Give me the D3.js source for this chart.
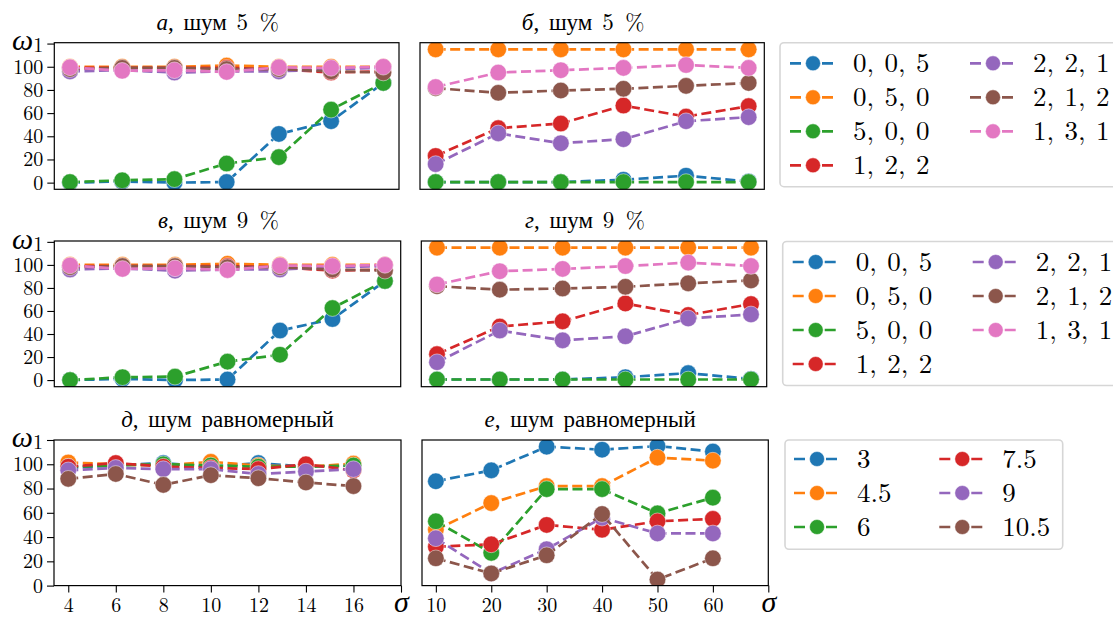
<!DOCTYPE html>
<html>
<head>
<meta charset="utf-8">
<title>omega1 vs sigma</title>
<script src="https://d3js.org/d3.v7.min.js"></script>
<style>
  body { margin: 0; background: #fff; }
  .frame { fill: none; stroke: #000; stroke-width: 1.2; }
  .tick line { stroke: #000; stroke-width: 1.1; }
</style>
</head>
<body>
<svg id="chart" width="1113" height="621"></svg>
<script>
// ---- data ----
var sigmaLeft = [4, 6, 8, 10, 12, 14, 16];
var sigmaRight = [10, 20, 30, 40, 50, 60];
var ratioNames = ["0, 0, 5", "0, 5, 0", "5, 0, 0", "1, 2, 2", "2, 2, 1", "2, 1, 2", "1, 3, 1"];
var uniformNames = ["3", "4.5", "6", "7.5", "9", "10.5"];
var yTicks = [0, 20, 40, 60, 80, 100, 120];

// а, шум 5 %  (one row per series, same order as ratioNames)
var panelA = [
  [0, 1, 0, 0.5, 42, 53, 86],
  [100, 100, 100, 101, 100, 100, 100],
  [0.5, 2, 3, 16.5, 22, 63, 86],
  [99, 99, 99, 99, 98, 95, 96],
  [96, 97, 95, 96, 96, 98, 99],
  [98, 99, 99, 98, 98, 96, 95],
  [99.5, 96.5, 97, 95.5, 99.5, 99, 100]
];
// б, шум 5 %
var panelB = [
  [0.5, 0.5, 0.5, 2.5, 6, 1],
  [115, 115, 115, 115, 115, 115],
  [0.5, 0.5, 0.5, 0.5, 0.5, 0.5],
  [23, 47, 51, 66.5, 57, 66],
  [16, 42.5, 34, 37.5, 53, 56.5],
  [81.5, 77.5, 79.5, 81, 83.5, 86],
  [82.5, 95, 97, 99, 101.5, 99]
];
// в, шум 9 %
var panelV = [
  [0, 1, 0, 0.5, 43, 53, 86],
  [100, 100, 100, 101, 100, 100, 100],
  [0, 2.5, 3, 16, 22, 62.5, 86],
  [99, 99, 99, 99, 98, 95, 96],
  [96, 97, 95, 96, 96, 98, 99],
  [98, 99, 99, 98, 98, 96, 95],
  [99.5, 96.5, 97, 95.5, 99.5, 99, 100]
];
// г, шум 9 %
var panelG = [
  [0.5, 0.5, 0.5, 2.5, 6, 1],
  [115, 115, 115, 115, 115, 115],
  [0.5, 0.5, 0.5, 0.5, 0.5, 0.5],
  [22.5, 46.5, 51, 66.5, 56.5, 66],
  [15.5, 43, 34.5, 38, 53.5, 57],
  [81.5, 78.5, 79.5, 81, 84, 86.5],
  [83, 94.5, 96.5, 99, 102, 99]
];
// д, шум равномерный (rows follow uniformNames)
var panelD = [
  [97, 99, 101, 98, 101, 98, 99],
  [101.5, 100, 99, 102, 99, 98, 100.5],
  [98, 99, 100, 99, 98, 98, 99],
  [98, 101, 98, 97, 96, 100, 95],
  [95, 97, 96, 96, 92, 94, 96],
  [88, 92, 83, 91, 88.5, 85, 82]
];
// е, шум равномерный
var panelE = [
  [86, 95, 114.5, 112, 115, 110.5],
  [46, 68, 82, 82, 105.5, 103],
  [53, 27, 79.5, 79.5, 59.5, 72.5],
  [32, 34, 50, 46, 53, 55],
  [39, 10, 30, 56, 43, 43],
  [22.5, 10, 25, 59, 5, 22.5]
];

var colors = d3.schemeCategory10;
var latin = "Latin Modern Roman, Liberation Serif, serif";
var cyr = "Liberation Serif";
var svg = d3.select("#chart");
var defs = svg.append("defs");

var panels = [
  {letter: "а", noise: "5 %", dx: -9, data: panelA, xs: sigmaLeft, xdom: [3.4, 16.6],
   box: [54.3, 399, 42.7, 189.3], ydom: [-5.75, 120.75], yaxis: true},
  {letter: "б", noise: "5 %", dx: -9, data: panelB, xs: sigmaRight, xdom: [7.5, 62.5],
   box: [420, 764.3, 42.7, 189.3], ydom: [-5.75, 120.75]},
  {letter: "в", noise: "9 %", dx: -9, data: panelV, xs: sigmaLeft, xdom: [3.4, 16.6],
   box: [54.3, 400.7, 241, 386.7], ydom: [-5.75, 120.75], yaxis: true},
  {letter: "г", noise: "9 %", dx: -9, data: panelG, xs: sigmaRight, xdom: [7.5, 62.5],
   box: [421.3, 766.7, 241, 386.7], ydom: [-5.75, 120.75]},
  {letter: "д", noise: "равномерный", dx: 0, data: panelD, xs: sigmaLeft, xdom: [3.4, 18],
   box: [54, 401, 440, 585.6], ydom: [0, 120], yaxis: true, xaxis: [4, 6, 8, 10, 12, 14, 16, 18]},
  {letter: "е", noise: "равномерный", dx: -5, data: panelE, xs: sigmaRight, xdom: [7.5, 70],
   box: [422, 768.3, 440, 585.6], ydom: [0, 120], xaxis: [10, 20, 30, 40, 50, 60, 70]}
];

panels.forEach(function(p, pi) {
  var x = d3.scaleLinear().domain(p.xdom).range([p.box[0], p.box[1]]);
  var y = d3.scaleLinear().domain(p.ydom).range([p.box[3], p.box[2]]);
  var g = svg.append("g");

  defs.append("clipPath").attr("id", "clip" + pi)
    .append("rect")
    .attr("x", p.box[0]).attr("y", p.box[2])
    .attr("width", p.box[1] - p.box[0]).attr("height", p.box[3] - p.box[2]);

  var plot = g.append("g").attr("clip-path", "url(#clip" + pi + ")");
  var line = d3.line().x(function(d, i) { return x(p.xs[i]); }).y(function(d) { return y(d); });

  p.data.forEach(function(series, si) {
    var s = plot.append("g");
    s.append("path")
      .attr("d", line(series))
      .attr("fill", "none")
      .attr("stroke", colors[si])
      .attr("stroke-width", 2.7)
      .attr("stroke-dasharray", "10,4.5");
    s.selectAll("circle").data(series).join("circle")
      .attr("cx", function(d, i) { return x(p.xs[i]); })
      .attr("cy", function(d) { return y(d); })
      .attr("r", 8.3)
      .attr("fill", colors[si])
      .attr("stroke", "#fff")
      .attr("stroke-opacity", 0.6)
      .attr("stroke-width", 0.8);
  });

  g.append("rect").attr("class", "frame")
    .attr("x", p.box[0]).attr("y", p.box[2])
    .attr("width", p.box[1] - p.box[0]).attr("height", p.box[3] - p.box[2]);

  if (p.yaxis) {
    var ya = g.append("g").attr("transform", "translate(" + p.box[0] + ",0)")
      .call(d3.axisLeft(y).tickValues(yTicks).tickSize(7).tickPadding(4)
        .tickFormat(function(d) { return d === 120 ? "" : d; }));
    ya.attr("font-family", latin).attr("font-size", 20);
    ya.select(".domain").remove();
    var om = ya.selectAll(".tick").filter(function(d) { return d === 120; }).select("text");
    om.append("tspan").attr("font-family", cyr).attr("font-style", "italic").attr("font-size", 30).text("ω");
    om.append("tspan").attr("font-size", 20).attr("dy", 2).text("1");
  }

  if (p.xaxis) {
    var last = p.xaxis[p.xaxis.length - 1];
    var xa = g.append("g").attr("transform", "translate(0," + p.box[3] + ")")
      .call(d3.axisBottom(x).tickValues(p.xaxis).tickSize(7).tickPadding(5)
        .tickFormat(function(d) { return d === last ? "" : d; }));
    xa.attr("font-family", latin).attr("font-size", 20);
    xa.select(".domain").remove();
    xa.selectAll(".tick").filter(function(d) { return d === last; }).select("text")
      .append("tspan").attr("font-family", cyr).attr("font-style", "italic")
      .attr("font-size", 30).attr("dy", 14).text("σ");
  }

  var t = g.append("text")
    .attr("font-family", cyr).attr("font-size", 23).attr("word-spacing", 4)
    .attr("x", (p.box[0] + p.box[1]) / 2 + p.dx)
    .attr("y", p.box[2] - 13)
    .attr("text-anchor", "middle");
  t.append("tspan").attr("font-style", "italic").text(p.letter);
  t.append("tspan").text(", шум ");
  t.append("tspan").attr("font-family", /%/.test(p.noise) ? latin : cyr).text(p.noise);
});

// ---- legends ----
var legends = [
  {names: ratioNames, box: [780, 1125, 42.7, 186.7], rows: 4, col0: 790, col1: 970, top: 63.3},
  {names: ratioNames, box: [782.7, 1125, 241.5, 385.5], rows: 4, col0: 792.7, col1: 972.7, top: 262},
  {names: uniformNames, box: [785, 1062.7, 440, 549.3], rows: 3, col0: 794, col1: 939.3, top: 459}
];

legends.forEach(function(L) {
  var g = svg.append("g");
  g.append("rect")
    .attr("x", L.box[0]).attr("y", L.box[2])
    .attr("width", L.box[1] - L.box[0]).attr("height", L.box[3] - L.box[2])
    .attr("rx", 4).attr("fill", "#fff").attr("fill-opacity", 0.8)
    .attr("stroke", "#d6d6d6").attr("stroke-width", 1.6);
  L.names.forEach(function(name, i) {
    var col = Math.floor(i / L.rows), row = i % L.rows;
    var hx = col === 0 ? L.col0 : L.col1;
    var cy = L.top + row * 34;
    g.append("line")
      .attr("x1", hx).attr("x2", hx + 46).attr("y1", cy).attr("y2", cy)
      .attr("stroke", colors[i]).attr("stroke-width", 2.7)
      .attr("stroke-dasharray", "11,5");
    g.append("circle").attr("cx", hx + 23).attr("cy", cy).attr("r", 7.5)
      .attr("fill", colors[i]).attr("stroke", "#fff").attr("stroke-opacity", 0.6).attr("stroke-width", 0.8);
    g.append("text").attr("font-family", latin).attr("font-size", 27).attr("word-spacing", 1.5)
      .attr("x", hx + 63).attr("y", cy + 9).text(name);
  });
});
</script>
</body>
</html>
